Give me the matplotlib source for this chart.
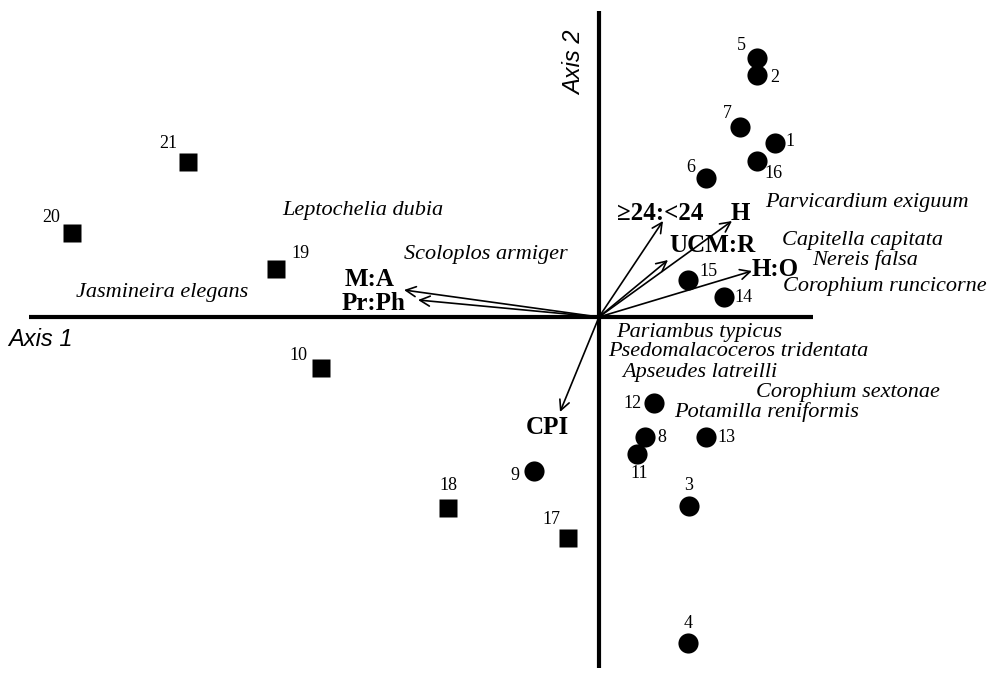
import numpy as np
import matplotlib
matplotlib.use('Agg')
import matplotlib.pyplot as plt

plt.rcParams['font.family'] = ['Liberation Serif', 'DejaVu Serif']

# site scores (axis 1, axis 2)
site_id = ['5', '2', '7', '1', '16', '6', '15', '14', '12', '8', '13', '11', '3', '9', '4',
           '21', '20', '19', '10', '18', '17']
site_x = [1.58, 1.58, 1.41, 1.76, 1.58, 1.07, 0.89, 1.25, 0.55, 0.46, 1.07, 0.38, 0.90, -0.65, 0.89,
          -4.11, -5.27, -3.23, -2.78, -1.51, -0.31]
site_y = [2.59, 2.42, 1.90, 1.74, 1.56, 1.39, 0.37, 0.20, -0.86, -1.20, -1.20, -1.37, -1.89, -1.54, -3.26,
          1.55, 0.84, 0.48, -0.51, -1.91, -2.21]
site_grp = ['o'] * 15 + ['s'] * 6

# environmental vectors
env_name = ['\u226524:<24', 'H', 'UCM:R', 'H:O', 'M:A', 'Pr:Ph', 'CPI']
env_x = [0.64, 1.33, 0.69, 1.53, -1.95, -1.81, -0.39]
env_y = [0.96, 0.96, 0.57, 0.46, 0.27, 0.17, -0.95]

# species
sp_name = ['Leptochelia dubia', 'Scoloplos armiger', 'Jasmineira elegans',
           'Parvicardium exiguum', 'Capitella capitata', 'Nereis falsa',
           'Corophium runcicorne', 'Pariambus typicus', 'Psedomalacoceros tridentata',
           'Apseudes latreilli', 'Corophium sextonae', 'Potamilla reniformis']
sp_x = [-2.36, -1.13, -4.37, 2.68, 2.64, 2.66, 2.86, 1.00, 1.39, 1.01, 2.49, 1.68]
sp_y = [1.07, 0.62, 0.25, 1.14, 0.77, 0.57, 0.30, -0.15, -0.35, -0.55, -0.75, -0.95]

# layout: number label offsets (pixels) and vector label positions
lab_off = [(-16, 12), (18, -3), (-13, 14), (15, 1), (16, -12), (-15, 10), (20, 8), (19, -1),
           (-22, -1), (17, -1), (20, 0), (2, -20), (0, 21), (-19, -4), (0, 19),
           (-20, 19), (-21, 16), (24, 16), (-23, 13), (0, 23), (-17, 19)]
env_lab = [(0.61, 1.04), (1.41, 1.04), (1.14, 0.72), (1.76, 0.47),
           (-2.29, 0.37), (-2.25, 0.14), (-0.52, -1.10)]

fig = plt.figure(figsize=(9.9, 6.98), dpi=100)
ax = fig.add_axes([0, 0, 1, 1])
ax.set_xlim(-5.99, 3.91)
ax.set_ylim(-3.81, 3.17)
ax.axis('off')

# axes
ax.plot([-5.70, 2.14], [0, 0], color='black', lw=3.0, solid_capstyle='butt', zorder=1)
ax.plot([0, 0], [3.06, -3.51], color='black', lw=3.0, solid_capstyle='butt', zorder=1)
ax.text(-5.91, -0.23, 'Axis 1', family='Liberation Sans', style='italic', fontsize=17,
        ha='left', va='center')
ax.text(-0.24, 2.54, 'Axis 2', family='Liberation Sans', style='italic', fontsize=17,
        ha='center', va='center', rotation=90)

# sites
for i in range(len(site_id)):
    ms = 14.5 if site_grp[i] == 'o' else 13.5
    ax.plot(site_x[i], site_y[i], marker=site_grp[i], ms=ms, color='black', mec='none', zorder=3)
    ax.annotate(site_id[i], (site_x[i], site_y[i]), xytext=lab_off[i], textcoords='offset pixels',
                ha='center', va='center', fontsize=13)

# vectors
for i in range(len(env_name)):
    ax.annotate('', xy=(env_x[i], env_y[i]), xytext=(0, 0),
                arrowprops=dict(arrowstyle='->', lw=1.2, color='black', mutation_scale=18,
                                shrinkA=0, shrinkB=0), zorder=2)
    ax.text(env_lab[i][0], env_lab[i][1], env_name[i], fontsize=18, fontweight='bold',
            ha='center', va='center')

# species
for i in range(len(sp_name)):
    ax.text(sp_x[i], sp_y[i], sp_name[i], fontsize=16, style='italic', ha='center', va='center')

plt.savefig('out.png', dpi=100, facecolor='white')
